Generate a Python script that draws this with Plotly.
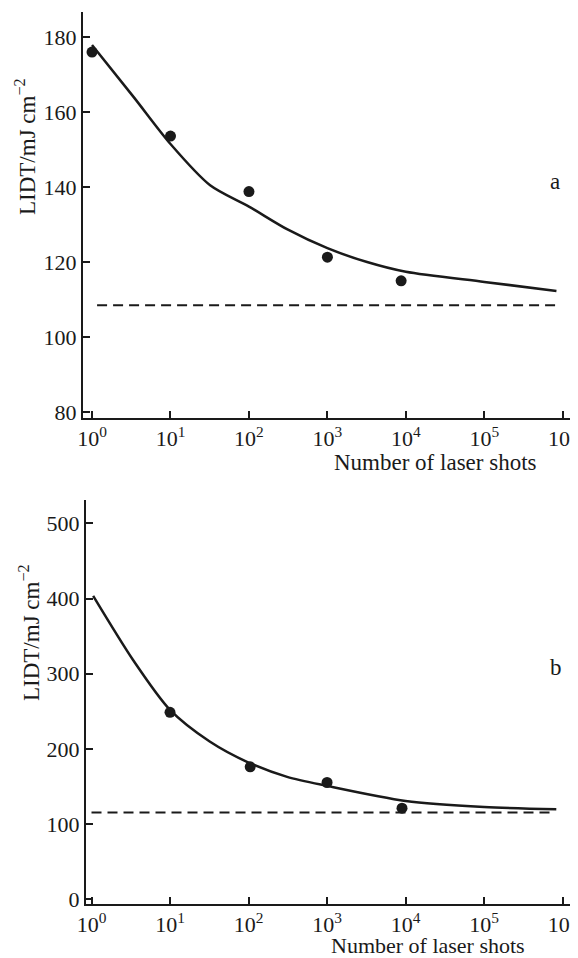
import plotly.graph_objects as go

# ---------------- data ----------------
# panel a
a_shots = [1, 10, 100, 1000, 8700]
a_lidt = [176, 153.6, 138.8, 121.3, 115]
a_fit_x = [1, 3.4, 10, 32, 100, 310, 1000, 3200, 10000, 100000, 830000]
a_fit_y = [177.9, 164.0, 151.5, 140.5, 134.8, 128.7, 123.7, 120.0, 117.4, 114.7, 112.3]
a_limit_x = [1.16, 830000]
a_limit_y = [108.5, 108.5]

# panel b
b_shots = [10, 105, 1000, 9000]
b_lidt = [248.8, 176.4, 155.5, 121.3]
b_fit_x = [1.05, 3.4, 10, 32, 100, 310, 1000, 10000, 100000, 830000]
b_fit_y = [403.5, 318, 252, 210, 182, 163, 151, 131, 123, 120]
b_limit_x = [1.0, 690000]
b_limit_y = [115.5, 115.5]

tick_vals = [1, 10, 100, 1000, 10000, 100000, 1000000]
tick_text = ["10<sup>0</sup>", "10<sup>1</sup>", "10<sup>2</sup>", "10<sup>3</sup>",
             "10<sup>4</sup>", "10<sup>5</sup>", "10<sup>6</sup>"]
a_yticks = [80, 100, 120, 140, 160, 180]
b_yticks = [0, 100, 200, 300, 400, 500]

FONT = "Liberation Serif, Times New Roman, DejaVu Serif, serif"
INK = "#1a1a1a"

# page has an 8px body margin: the figure starts at (8, 8) of the window
OFF = 8
W, H = 578 - OFF, 958 - OFF

def fx(x):
    return (x - OFF) / W

def fy(y):
    return 1 - (y - OFF) / H

fig = go.Figure()

def add_panel(xs, ys, cx, cy, lx, ly, xa, ya):
    fig.add_trace(go.Scatter(x=cx, y=cy, mode="lines", line=dict(color=INK, width=2.5, shape="spline", smoothing=0.8),
                             xaxis=xa, yaxis=ya, showlegend=False))
    fig.add_trace(go.Scatter(x=lx, y=ly, mode="lines", line=dict(color=INK, width=2, dash="10px,6px"),
                             xaxis=xa, yaxis=ya, showlegend=False))
    fig.add_trace(go.Scatter(x=xs, y=ys, mode="markers", marker=dict(color=INK, size=11),
                             xaxis=xa, yaxis=ya, showlegend=False))

add_panel(a_shots, a_lidt, a_fit_x, a_fit_y, a_limit_x, a_limit_y, "x", "y")
add_panel(b_shots, b_lidt, b_fit_x, b_fit_y, b_limit_x, b_limit_y, "x2", "y2")

axis_common = dict(showline=True, linecolor=INK, linewidth=2, ticks="inside", ticklen=7, tickwidth=1.5,
                   tickcolor=INK, showgrid=False, zeroline=False, automargin=False,
                   tickfont=dict(family=FONT, size=22, color=INK))

fig.update_layout(
    width=W, height=H, margin=dict(l=0, r=0, t=0, b=0, autoexpand=False),
    paper_bgcolor="white", plot_bgcolor="white",
    xaxis=dict(type="log", domain=[fx(83), fx(573)], range=[-0.115, 6.13], anchor="y",
               tickvals=tick_vals, ticktext=tick_text, **axis_common),
    yaxis=dict(domain=[fy(418), fy(12)], range=[78.4, 186.7], anchor="x",
               tickvals=a_yticks, **axis_common),
    xaxis2=dict(type="log", domain=[fx(86), fx(576)], range=[-0.07, 6.17], anchor="y2",
                tickvals=tick_vals, ticktext=tick_text, **axis_common),
    yaxis2=dict(domain=[fy(904), fy(500)], range=[-6, 531], anchor="x2",
                tickvals=b_yticks, **axis_common),
    font=dict(family=FONT, size=22, color=INK),
)

ann = []
def txt(x, y, t, angle=0, size=23, yanchor="middle"):
    ann.append(dict(x=fx(x), y=fy(y), xref="paper", yref="paper", text=t, showarrow=False,
                    textangle=angle, font=dict(family=FONT, size=size, color=INK),
                    xanchor="center", yanchor=yanchor, borderpad=0))

txt(435, 463, "Number of laser shots")
txt(428, 959, "Number of laser shots", size=22, yanchor="bottom")
txt(26, 147, "LIDT/mJ cm<sup>−2</sup>", angle=-90)
txt(29, 633, "LIDT/mJ cm<sup>−2</sup>", angle=-90)
txt(555, 182, "a")
txt(556, 667, "b")
fig.update_layout(annotations=ann)

fig.write_html("out.html")
